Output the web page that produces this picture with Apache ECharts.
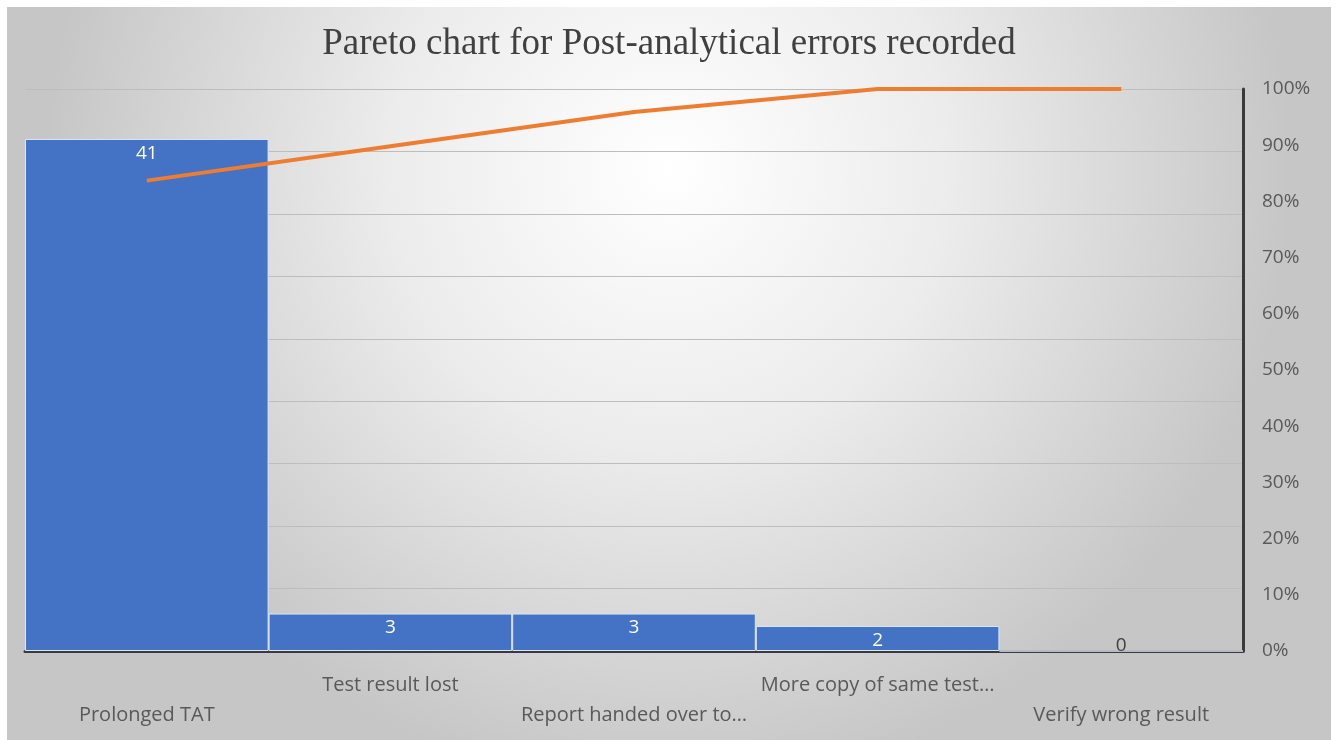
<!DOCTYPE html>
<html>
<head>
<meta charset="utf-8">
<script src="https://cdn.jsdelivr.net/npm/echarts@6/dist/echarts.min.js"></script>
<style>
  html, body { margin: 0; padding: 0; background: #ffffff; width: 1338px; height: 740px; overflow: hidden; }
  #chart { position: absolute; left: 7px; top: 7px; width: 1324px; height: 733px; }
</style>
</head>
<body>
<div id="chart"></div>
<script>
// Post-analytical error categories and their counts
const categories = ['Prolonged TAT', 'Test result lost', 'Report handed over to…', 'More copy of same test…', 'Verify wrong result'];
const counts = [41, 3, 3, 2, 0];
// Cumulative share of all errors (%)
const cumulativePct = [83.7, 89.8, 95.9, 100, 100];
const countAxisMax = 45;

const chart = echarts.init(document.getElementById('chart'));

const barData = counts.map(v => v === 0
  ? { value: v, label: { position: 'insideBottom', distance: -4, color: '#404040' } }
  : v);

chart.setOption({
  backgroundColor: {
    type: 'radial', x: 0.5, y: 0.22, r: 0.85,
    colorStops: [
      { offset: 0, color: '#ffffff' },
      { offset: 0.45, color: '#ececec' },
      { offset: 1, color: '#c6c6c6' }
    ]
  },
  title: {
    text: 'Pareto chart for Post-analytical errors recorded',
    left: 'center',
    top: 14,
    textStyle: { fontFamily: 'Liberation Serif', fontSize: 37, fontWeight: 'normal', color: '#404040' }
  },
  grid: { left: 18, right: 88, top: 82, bottom: 89, containLabel: false },
  xAxis: {
    type: 'category',
    data: categories,
    axisTick: { show: false },
    axisLine: { lineStyle: { color: '#3a3a3a', width: 3 } },
    axisLabel: {
      interval: 0,
      margin: 19,
      lineHeight: 30,
      fontFamily: 'Open Sans',
      fontSize: 20,
      color: '#595959',
      formatter: (v, i) => (i % 2 === 0 ? '\n' + v : v)
    }
  },
  yAxis: [
    {
      type: 'value', min: 0, max: countAxisMax, interval: 5,
      axisLabel: { show: false },
      axisLine: { show: false },
      axisTick: { show: false },
      splitLine: { lineStyle: { color: '#bdbdbd', width: 1 } }
    },
    {
      type: 'value', min: 0, max: 100, interval: 10, position: 'right',
      axisLine: { show: true, lineStyle: { color: '#3a3a3a', width: 3 } },
      axisTick: { show: false },
      splitLine: { show: false },
      axisLabel: { margin: 19, fontFamily: 'Open Sans', fontSize: 19, color: '#595959', formatter: '{value}%' }
    }
  ],
  series: [
    {
      type: 'bar',
      data: barData,
      yAxisIndex: 0,
      barCategoryGap: 0,
      itemStyle: { color: '#4472c4', borderColor: '#dbe6f6', borderWidth: 1 },
      label: { show: true, position: 'insideTop', distance: 5, color: '#ffffff', fontFamily: 'Open Sans', fontSize: 19 },
      z: 2
    },
    {
      type: 'line',
      data: cumulativePct,
      yAxisIndex: 1,
      symbol: 'none',
      lineStyle: { color: '#ed7d31', width: 4 },
      z: 3
    }
  ]
});
</script>
</body>
</html>
